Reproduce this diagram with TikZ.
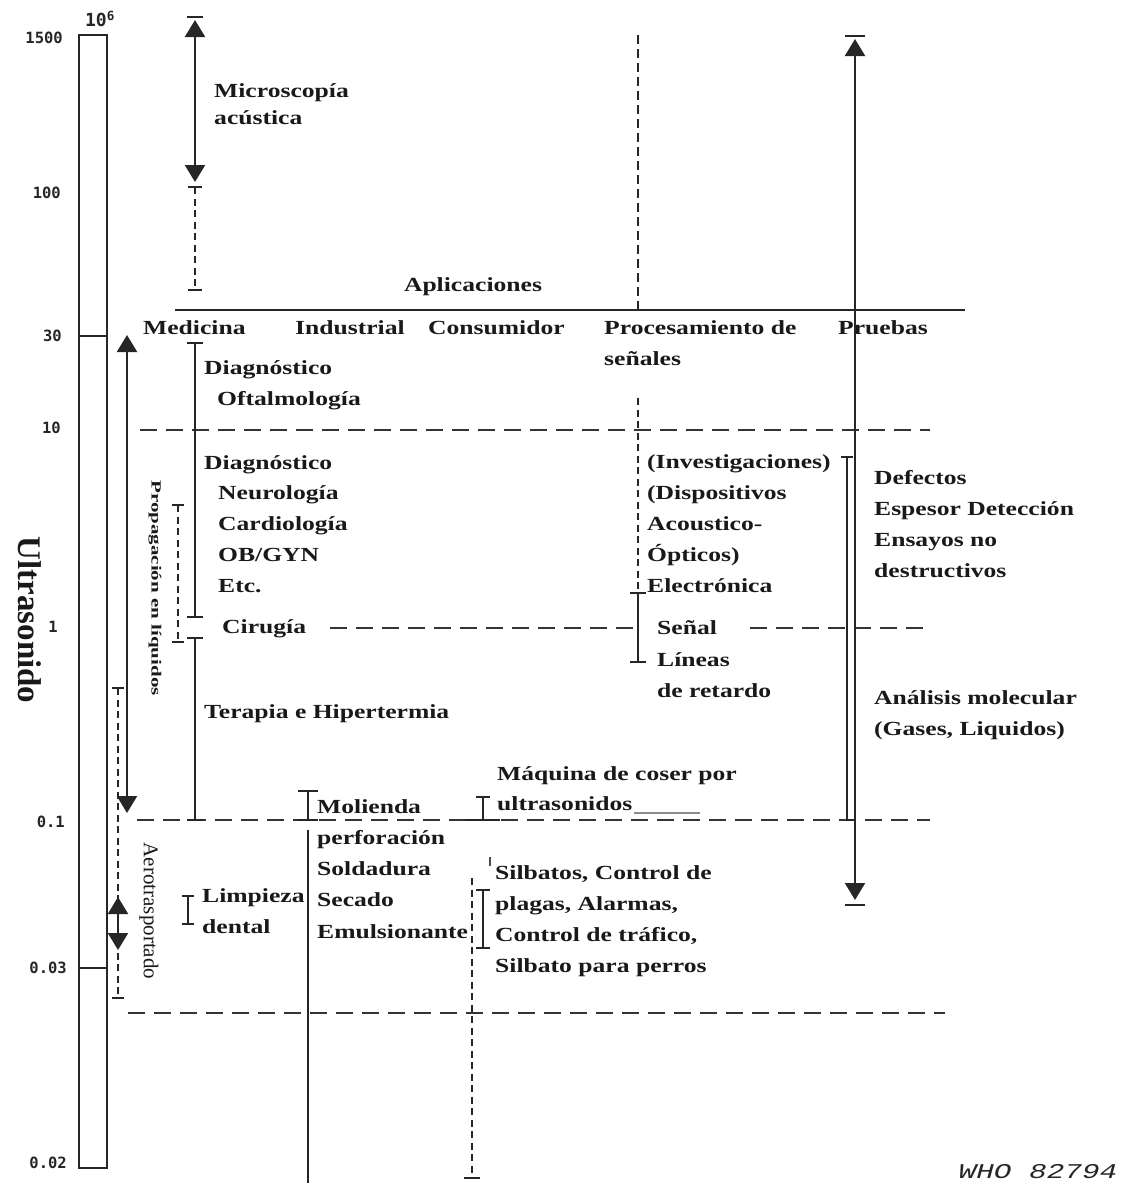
\documentclass[tikz,border=0pt]{standalone}
\usepackage{fontspec}
\setmainfont{Liberation Serif}[FakeStretch=1.28]
\newfontfamily\plainserif{Liberation Serif}
\newfontfamily\narrowserif{Liberation Serif}[FakeStretch=1.5]
\newfontfamily\scalefont{DejaVu Sans Mono}
\newfontfamily\tagfont{Liberation Mono}[FakeStretch=1.4]
\usetikzlibrary{arrows.meta}

% short horizontal bar at the end of a range: x, y, half width
\newcommand\rangebar[3]{\draw[ink] (#1-#3,#2) -- (#1+#3,#2);}

\begin{document}
\begin{tikzpicture}[x=1pt,y=-1pt,
  ink/.style={line width=2.2pt, draw=black!85, line cap=butt},
  guide/.style={line width=2.6pt, draw=black!80, dash pattern=on 17pt off 9pt},
  vdash/.style={line width=2pt, draw=black!85, dash pattern=on 7pt off 4.5pt},
  bigtip/.tip={Triangle[width=20pt,length=17pt]},
  lbl/.style={font=\fontsize{20}{24}\selectfont\bfseries, anchor=base west, inner sep=0pt, text=black!90},
  scl/.style={font=\scalefont\bfseries\fontsize{15.5}{15.5}\selectfont, anchor=east, inner sep=0pt, text=black!85},
]
\fill[white] (0,0) rectangle (1127,1187);
\useasboundingbox (0,0) rectangle (1127,1187);

% ---- frequency scale bar ----
\draw[ink] (79,35) rectangle (107,1168);
\draw[ink] (79,336) -- (107,336);
\draw[ink] (79,968) -- (107,968);
\node[scl] (s1500) at (63,38) {1500};
\node[scl] (s100) at (61,193) {100};
\node[scl] (s30) at (62,336) {30};
\node[scl] (s10) at (61,428) {10};
\node[scl] (s1) at (58,627) {1};
\node[scl] (s01) at (65,822) {0.1};
\node[scl] (s003) at (67,968) {0.03};
\node[scl] (s002) at (67,1163) {0.02};
\node[font=\scalefont\bfseries\fontsize{18}{18}\selectfont, inner sep=0pt, text=black!85] (top) at (100,19) {10\textsuperscript{6}};

\node[font=\plainserif\bfseries\fontsize{33}{33}\selectfont, rotate=-90, inner sep=0pt, text=black!90] (ultra) at (30,620) {Ultrasonido};
\node[font=\narrowserif\bfseries\fontsize{14}{14}\selectfont, rotate=-90, inner sep=0pt, text=black!90] (liq) at (155,588) {Propagación en líquidos};
\node[font=\plainserif\fontsize{21}{21}\selectfont, rotate=-90, inner sep=0pt, text=black!90] (aero) at (149,911) {Aerotrasportado};

% ---- acoustic microscopy range ----
\coordinate (mA) at (195,20);
\coordinate (mB) at (195,182);
\coordinate (mC) at (195,187);
\coordinate (mD) at (195,290);
\draw[ink,{bigtip}-{bigtip}] (mA) -- (mB);
\rangebar{195}{17}{8}
\draw[vdash] (mC) -- (mD);
\rangebar{195}{187}{7}
\rangebar{195}{290}{7}
\node[lbl] (micro1) at (214,97) {Microscopía};
\node[lbl] (micro2) at (214,124) {acústica};

% ---- heading and columns ----
\node[lbl, anchor=base] (apl) at (473,291) {Aplicaciones};
\draw[ink] (175,310) -- (965,310);
\draw[vdash, dash pattern=on 9pt off 5pt] (638,35) -- (638,310);
\node[lbl] (hMed) at (143,334) {Medicina};
\node[lbl] (hInd) at (295,334) {Industrial};
\node[lbl] (hCon) at (428,334) {Consumidor};
\node[lbl] (hPro) at (604,334) {Procesamiento de};
\node[lbl] (hPro2) at (604,365) {señales};
\node[lbl] (hPru) at (838,334) {Pruebas};

% ---- frequency guide lines ----
\draw[guide] (140,430) -- (930,430);
\draw[guide] (330,628) -- (640,628);
\draw[guide] (750,628) -- (930,628);
\draw[guide] (137,820) -- (930,820);
\draw[guide] (128,1013) -- (945,1013);

% ---- medicine ----
\draw[ink] (195,343) -- (195,617);
\rangebar{195}{343}{8}
\rangebar{195}{617}{8}
\draw[ink] (195,638) -- (195,820);
\rangebar{195}{638}{8}
\rangebar{195}{820}{8}
\draw[vdash] (178,505) -- (178,642);
\rangebar{178}{505}{6}
\rangebar{178}{642}{6}
\coordinate (pA) at (127,335);
\coordinate (pB) at (127,813);
\draw[ink,{bigtip}-{bigtip}] (pA) -- (pB);
\draw[vdash] (118,688) -- (118,998);
\rangebar{118}{688}{6}
\rangebar{118}{998}{6}
\coordinate (aA) at (118,897);
\coordinate (aB) at (118,950);
\draw[ink,{bigtip}-{bigtip}] (aA) -- (aB);
\draw[ink] (188,896) -- (188,924);
\rangebar{188}{896}{6}
\rangebar{188}{924}{6}

\node[lbl] (d1) at (204,374) {Diagnóstico};
\node[lbl] (d2) at (217,405) {Oftalmología};
\node[lbl] (e1) at (204,469) {Diagnóstico};
\node[lbl] (e2) at (218,499) {Neurología};
\node[lbl] (e3) at (218,530) {Cardiología};
\node[lbl] (e4) at (218,561) {OB/GYN};
\node[lbl] (e5) at (218,592) {Etc.};
\node[lbl] (cir) at (222,633) {Cirugía};
\node[lbl] (ter) at (204,718) {Terapia e Hipertermia};
\node[lbl] (lim1) at (202,902) {Limpieza};
\node[lbl] (lim2) at (202,933) {dental};

% ---- industry ----
\draw[ink] (308,791) -- (308,820);
\rangebar{308}{791}{10}
\rangebar{308}{820}{10}
\draw[ink] (308,830) -- (308,1183);
\node[lbl] (i1) at (317,813) {Molienda};
\node[lbl] (i2) at (317,844) {perforación};
\node[lbl] (i3) at (317,875) {Soldadura};
\node[lbl] (i4) at (317,906) {Secado};
\node[lbl] (i5) at (317,938) {Emulsionante};

% ---- consumer ----
\draw[ink] (483,797) -- (483,820);
\rangebar{483}{797}{7}
\draw[ink] (465,820) -- (500,820);
\draw[vdash] (472,878) -- (472,1178);
\rangebar{472}{1178}{8}
\draw[ink] (483,890) -- (483,948);
\rangebar{483}{890}{7}
\rangebar{483}{948}{7}
\draw[line width=1.2pt, black!70] (490,857) -- (490,866);
\draw[line width=1.4pt, black!45] (634,813) -- (700,813);
\node[lbl] (c1) at (497,780) {Máquina de coser por};
\node[lbl] (c2) at (497,810) {ultrasonidos};
\node[lbl] (c3) at (495,879) {Silbatos, Control de};
\node[lbl] (c4) at (495,910) {plagas, Alarmas,};
\node[lbl] (c5) at (495,941) {Control de tráfico,};
\node[lbl] (c6) at (495,972) {Silbato para perros};

% ---- signal processing ----
\draw[vdash] (638,398) -- (638,593);
\draw[ink] (638,593) -- (638,662);
\rangebar{638}{593}{8}
\rangebar{638}{662}{8}
\node[lbl] (p1) at (647,468) {(Investigaciones)};
\node[lbl] (p2) at (647,499) {(Dispositivos};
\node[lbl] (p3) at (647,530) {Acoustico-};
\node[lbl] (p4) at (647,561) {Ópticos)};
\node[lbl] (p5) at (647,592) {Electrónica};
\node[lbl] (p6) at (657,634) {Señal};
\node[lbl] (p7) at (657,666) {Líneas};
\node[lbl] (p8) at (657,697) {de retardo};

% ---- testing ----
\coordinate (tA) at (855,39);
\coordinate (tB) at (855,900);
\draw[ink,{bigtip}-{bigtip}] (tA) -- (tB);
\rangebar{855}{36}{10}
\rangebar{855}{905}{10}
\draw[ink] (847,457) -- (847,820) -- (855,820);
\rangebar{847}{457}{6}
\node[lbl] (t1) at (874,484) {Defectos};
\node[lbl] (t2) at (874,515) {Espesor Detección};
\node[lbl] (t3) at (874,546) {Ensayos no};
\node[lbl] (t4) at (874,577) {destructivos};
\node[lbl] (t5) at (874,704) {Análisis molecular};
\node[lbl] (t6) at (874,735) {(Gases, Liquidos)};

\node[font=\tagfont\itshape\fontsize{21}{21}\selectfont, inner sep=0pt, text=black!85] (who) at (1038,1172) {WHO 82794};
\end{tikzpicture}
\end{document}
